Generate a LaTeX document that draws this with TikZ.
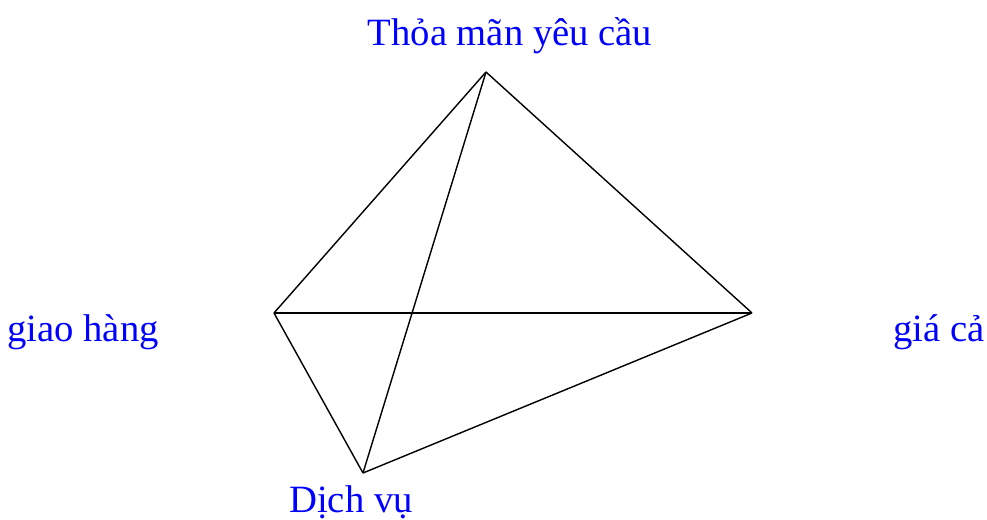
\documentclass[tikz,border=0pt]{standalone}
\usepackage{fontspec}
\setmainfont{Liberation Serif}
\tikzset{
  lbl/.style={text=blue, font=\fontsize{22}{26}\selectfont, inner sep=0pt, anchor=base},
  edge/.style={draw=black, line width=0.8pt}
}
\begin{document}
\begin{tikzpicture}[x=0.02cm, y=-0.02cm]
	\useasboundingbox (0,0) rectangle (987,520);

	% vertices
	\coordinate (top) at (486,72);
	\coordinate (left) at (274,313);
	\coordinate (right) at (752,313);
	\coordinate (bottom) at (363,473);

	% labels
	\node[lbl] (ttop) at (510,46) {Thỏa mãn yêu cầu};
	\node[lbl] (tleft) at (83,341) {giao hàng};
	\node[lbl] (tright) at (939,341) {giá cả};
	\node[lbl] (tbottom) at (351,512) {Dịch vụ};

	\draw[edge] (top) -- (left);
	\draw[edge] (top) -- (right);
	\draw[edge] (top) -- (bottom);
	\draw[edge] (left) -- (right);
	\draw[edge] (left) -- (bottom);
	\draw[edge] (bottom) -- (right);
\end{tikzpicture}
\end{document}
